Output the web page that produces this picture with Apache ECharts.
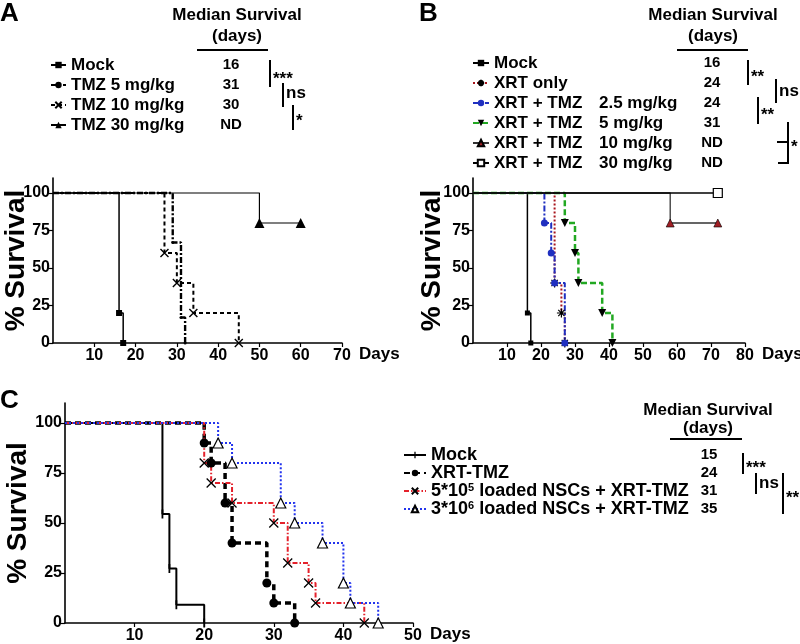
<!DOCTYPE html>
<html>
<head>
<meta charset="utf-8">
<script src="https://cdn.jsdelivr.net/npm/echarts@6/dist/echarts.min.js"></script>
<style>html,body{margin:0;padding:0;background:#fff}#c{width:800px;height:644px}</style>
</head>
<body>
<div id="c"></div>
<script>
const FONT = '"Liberation Sans", Arial, Helvetica, sans-serif';

// ---------- Panel A ----------
const aNames = ['Mock', 'TMZ 5 mg/kg', 'TMZ 10 mg/kg', 'TMZ 30 mg/kg'];
const aMedians = ['16', '31', '30', 'ND'];
const aMockDays = [0, 16, 17];
const aMockSurv = [100, 20, 0];
const aTmz5Days = [0, 29, 31, 32];
const aTmz5Surv = [100, 67, 17, 0];
const aTmz10Days = [0, 27, 30, 34, 45];
const aTmz10Surv = [100, 60, 40, 20, 0];
const aTmz30Days = [0, 50, 60];
const aTmz30Surv = [100, 80, 80];

// ---------- Panel B ----------
const bNames = ['Mock', 'XRT only', 'XRT + TMZ  2.5 mg/kg', 'XRT + TMZ  5 mg/kg', 'XRT + TMZ  10 mg/kg', 'XRT + TMZ  30 mg/kg'];
const bMedians = ['16', '24', '24', '31', 'ND', 'ND'];
const bMockDays = [0, 16, 17];
const bMockSurv = [100, 20, 0];
const bXrtDays = [0, 24, 26, 27];
const bXrtSurv = [100, 40, 20, 0];
const bT25Days = [0, 21, 23, 24, 27];
const bT25Surv = [100, 80, 60, 40, 0];
const bT5Days = [0, 27, 30, 31, 38, 41];
const bT5Surv = [100, 80, 60, 40, 20, 0];
const bT10Days = [0, 58, 72];
const bT10Surv = [100, 80, 80];
const bT30Days = [0, 72];
const bT30Surv = [100, 100];

// ---------- Panel C ----------
const cNames = ['Mock', 'XRT-TMZ', '5*10^5 loaded NSCs + XRT-TMZ', '3*10^6 loaded NSCs + XRT-TMZ'];
const cMedians = ['15', '24', '31', '35'];
const cMockDays = [0, 14, 15, 16, 20];
const cMockSurv = [100, 54.5, 27.3, 9.1, 0];
const cXtDays = [0, 20, 21, 23, 24, 29, 30, 33];
const cXtSurv = [100, 90, 80, 60, 40, 20, 10, 0];
const c5Days = [0, 20, 21, 24, 30, 32, 35, 36, 43];
const c5Surv = [100, 80, 70, 60, 50, 30, 20, 10, 0];
const c3Days = [0, 22, 24, 31, 33, 37, 40, 41, 45];
const c3Surv = [100, 90, 80, 60, 50, 40, 20, 10, 0];

// axes
const yTicks = [0, 25, 50, 75, 100];
const xMaxA = 70, xMaxB = 80, xMaxC = 50;

const X_SYM = 'path://M0,0L10,10M10,0L0,10';
const AST_SYM = 'path://M5,0L5,10M0,5L10,5M1.5,1.5L8.5,8.5M8.5,1.5L1.5,8.5';
const TICK_SYM = 'path://M4,0L6,0L6,10L4,10ZM0,0L0.01,0L0.01,0.01ZM10,10L9.99,10L9.99,9.99Z';

function km(days, surv) {
  return days.map((d, i) => i === 0 ? { value: [d, surv[i]], symbol: 'none' } : { value: [d, surv[i]] });
}
function ser(panel, idx, name, days, surv, o) {
  return Object.assign({
    type: 'line', name: panel + ':' + name, step: 'end',
    xAxisIndex: idx, yAxisIndex: idx, data: km(days, surv),
    showSymbol: true, clip: false, animation: false,
    emphasis: { disabled: true }
  }, o);
}

const series = [
  ser('A', 0, aNames[0], aMockDays, aMockSurv, { symbol: 'rect', symbolSize: 6, lineStyle: { color: '#000', width: 1.5 }, itemStyle: { color: '#000', borderWidth: 0 } }),
  ser('A', 0, aNames[1], aTmz5Days, aTmz5Surv, { symbol: 'circle', symbolSize: 3, lineStyle: { color: '#000', width: 2.4, type: [6, 2, 2, 2] }, itemStyle: { color: '#000', borderWidth: 0 } }),
  ser('A', 0, aNames[2], aTmz10Days, aTmz10Surv, { symbol: X_SYM, symbolSize: 8, lineStyle: { color: '#000', width: 2, type: [4, 3] }, itemStyle: { color: '#000', borderColor: '#000', borderWidth: 1.4 } }),
  ser('A', 0, aNames[3], aTmz30Days, aTmz30Surv, { symbol: 'triangle', symbolSize: 10, lineStyle: { color: '#000', width: 1.2 }, itemStyle: { color: '#000', borderWidth: 0 } }),

  ser('B', 1, bNames[0], bMockDays, bMockSurv, { symbol: 'rect', symbolSize: 5, lineStyle: { color: '#000', width: 1.5 }, itemStyle: { color: '#000', borderWidth: 0 } }),
  ser('B', 1, bNames[1], bXrtDays, bXrtSurv, { symbol: AST_SYM, symbolSize: 9, lineStyle: { color: '#a8141c', width: 2, type: [2, 2] }, itemStyle: { color: '#000', borderColor: '#000', borderWidth: 1.2 } }),
  ser('B', 1, bNames[2], bT25Days, bT25Surv, { symbol: 'circle', symbolSize: 7, lineStyle: { color: '#1f2fc0', width: 2, type: [6, 2, 2, 2] }, itemStyle: { color: '#1f2fc0', borderWidth: 0 } }),
  ser('B', 1, bNames[3], bT5Days, bT5Surv, { symbol: 'triangle', symbolRotate: 180, symbolSize: 8, lineStyle: { color: '#22a822', width: 2.5, type: [6, 3] }, itemStyle: { color: '#000', borderWidth: 0 } }),
  ser('B', 1, bNames[4], bT10Days, bT10Surv, { symbol: 'triangle', symbolSize: 8, lineStyle: { color: '#333', width: 1.3 }, itemStyle: { color: '#a01e24', borderColor: '#000', borderWidth: 0.6 } }),
  ser('B', 1, bNames[5], bT30Days, bT30Surv, { symbol: 'rect', symbolSize: 9, lineStyle: { color: '#000', width: 1.3 }, itemStyle: { color: '#fff', borderColor: '#000', borderWidth: 1.2 } }),

  ser('C', 2, cNames[0], cMockDays, cMockSurv, { symbol: TICK_SYM, symbolSize: 9, lineStyle: { color: '#000', width: 2 }, itemStyle: { color: '#000', borderWidth: 0 } }),
  ser('C', 2, cNames[1], cXtDays, cXtSurv, { symbol: 'circle', symbolSize: 9, lineStyle: { color: '#000', width: 3.5, type: [6, 4] }, itemStyle: { color: '#000', borderWidth: 0 } }),
  ser('C', 2, cNames[2], c5Days, c5Surv, { symbol: X_SYM, symbolSize: 9, lineStyle: { color: '#e4212b', width: 2, type: [5, 2, 1.5, 2] }, itemStyle: { color: '#000', borderColor: '#000', borderWidth: 1.3 } }),
  ser('C', 2, cNames[3], c3Days, c3Surv, { symbol: 'triangle', symbolSize: 10, lineStyle: { color: '#2233ee', width: 2, type: [2, 2] }, itemStyle: { color: '#fff', borderColor: '#000', borderWidth: 1.2 } })
];

function xAxis(idx, max) {
  return {
    type: 'value', gridIndex: idx, min: 0, max: max, interval: 10,
    name: 'Days', nameLocation: 'end', nameGap: 17, nameMoveOverlap: false,
    nameTextStyle: { fontFamily: FONT, fontWeight: 'bold', fontSize: 17, color: '#000', align: 'left', verticalAlign: 'top', padding: [3, 0, 0, 0] },
    axisLine: { lineStyle: { color: '#000', width: 1.6 } },
    axisTick: { show: true, length: 4, lineStyle: { color: '#000', width: 1.2 } },
    axisLabel: { showMinLabel: false, margin: 5, fontFamily: FONT, fontWeight: 'bold', fontSize: 16, color: '#000' },
    splitLine: { show: false }
  };
}
function yAxis(idx, gap) {
  return {
    type: 'value', gridIndex: idx, min: 0, max: 110, interval: 25,
    name: '% Survival', nameLocation: 'middle', nameRotate: 90, nameGap: gap, nameMoveOverlap: false,
    nameTextStyle: { fontFamily: FONT, fontWeight: 'bold', fontSize: 28, color: '#000' },
    axisLine: { lineStyle: { color: '#000', width: 1.6 } },
    axisTick: { show: true, length: 4, customValues: yTicks, lineStyle: { color: '#000', width: 1.2 } },
    axisLabel: { customValues: yTicks, margin: 3, fontFamily: FONT, fontWeight: 'bold', fontSize: 16, color: '#000' },
    splitLine: { show: false }
  };
}

function fmt(name) {
  let n = name.slice(2);
  n = n.replace(/\^(\d)/, '{sup|$1}');
  const dbl = n.indexOf('  ');
  if (dbl > 0) n = '{p|' + n.slice(0, dbl) + '}{q|' + n.slice(dbl + 2) + '}';
  return n;
}
function legend(panel, names, left, top, iw, lh, fs) {
  return {
    orient: 'vertical', left: left, top: top, itemGap: 0, itemWidth: iw, itemHeight: 8,
    selectedMode: false, padding: 0, symbolKeepAspect: true,
    data: names.map(n => panel + ':' + n),
    formatter: fmt,
    textStyle: {
      fontFamily: FONT, fontWeight: 'bold', fontSize: fs, color: '#000', lineHeight: lh,
      rich: {
        p: { fontFamily: FONT, fontWeight: 'bold', fontSize: fs, color: '#000', lineHeight: lh, width: 105 },
        q: { fontFamily: FONT, fontWeight: 'bold', fontSize: fs, color: '#000', lineHeight: lh },
        sup: { fontFamily: FONT, fontWeight: 'bold', fontSize: 11, color: '#000', lineHeight: 12, verticalAlign: 'top', padding: [0, 0, 6, 0] }
      }
    }
  };
}

// ---------- annotation graphics ----------
const g = [];
function txt(x, y, s, size, align, va) {
  g.push({ type: 'text', x: x, y: y, silent: true, style: { text: s, fill: '#000', font: 'bold ' + size + 'px ' + FONT, align: align || 'left', textAlign: align || 'left', verticalAlign: va || 'middle', textVerticalAlign: va || 'middle' } });
}
function ln(x1, y1, x2, y2, w) {
  g.push({ type: 'line', silent: true, shape: { x1: x1, y1: y1, x2: x2, y2: y2 }, style: { stroke: '#000', lineWidth: w || 2 } });
}
// panel letters
txt(0, 14, 'A', 26); txt(419, 14, 'B', 26); txt(0, 401, 'C', 26);
// headers
function header(cx, y1, y2, ux1, ux2, uy) {
  txt(cx, y1, 'Median Survival', 17, 'center');
  txt(cx, y2, '(days)', 17, 'center');
  ln(ux1, uy, ux2, uy, 2);
}
header(237, 15, 36, 197, 268, 50);
header(713, 15, 36, 677, 748, 50);
header(708, 410, 428, 670, 742, 439);
// medians
const rowA0 = 65, rowAstep = 20, rowB0 = 63, rowBstep = 20, rowC0 = 455, rowCstep = 18;
aMedians.forEach((m, i) => txt(231, rowA0 + i * rowAstep, m, 15, 'center'));
bMedians.forEach((m, i) => txt(712, rowB0 + i * rowBstep, m, 15, 'center'));
cMedians.forEach((m, i) => txt(709, rowC0 + i * rowCstep, m, 15, 'center'));
// significance brackets A
ln(270, 60, 270, 87); txt(273, 79, '***', 17);
ln(283, 83, 283, 107); txt(286, 93, 'ns', 17);
ln(293, 105, 293, 130); txt(296, 121, '*', 17);
// B
ln(748, 60, 748, 85); txt(751, 77, '**', 17);
ln(776, 79, 776, 103); txt(779, 91, 'ns', 17);
ln(758, 97, 758, 124); txt(761, 115, '**', 17);
ln(788, 122, 788, 164); ln(777, 142, 788, 142); ln(778, 163, 788, 163); txt(791, 147, '*', 17);
// C
ln(743, 453, 743, 474); txt(746, 468, '***', 17);
ln(756, 473, 756, 494); txt(759, 483, 'ns', 17);
ln(783, 473, 783, 514); txt(786, 498, '**', 17);

const option = {
  animation: false,
  backgroundColor: '#fff',
  grid: [
    { left: 53, top: 178, width: 289, height: 165, outerBoundsMode: 'none', containLabel: false },
    { left: 473, top: 178, width: 272, height: 165, outerBoundsMode: 'none', containLabel: false },
    { left: 65, top: 403, width: 348, height: 220, outerBoundsMode: 'none', containLabel: false }
  ],
  xAxis: [xAxis(0, xMaxA), xAxis(1, xMaxB), xAxis(2, xMaxC)],
  yAxis: [yAxis(0, 23), yAxis(1, 27), yAxis(2, 33)],
  legend: [
    legend('A', aNames, 50, 55, 15, 20, 17),
    legend('B', bNames, 472, 53, 16, 20, 17),
    legend('C', cNames, 403, 446, 22, 18, 18)
  ],
  series: series,
  graphic: g
};
const chart = echarts.init(document.getElementById('c'), null, { renderer: 'canvas' });
chart.setOption(option);
</script>
</body>
</html>
